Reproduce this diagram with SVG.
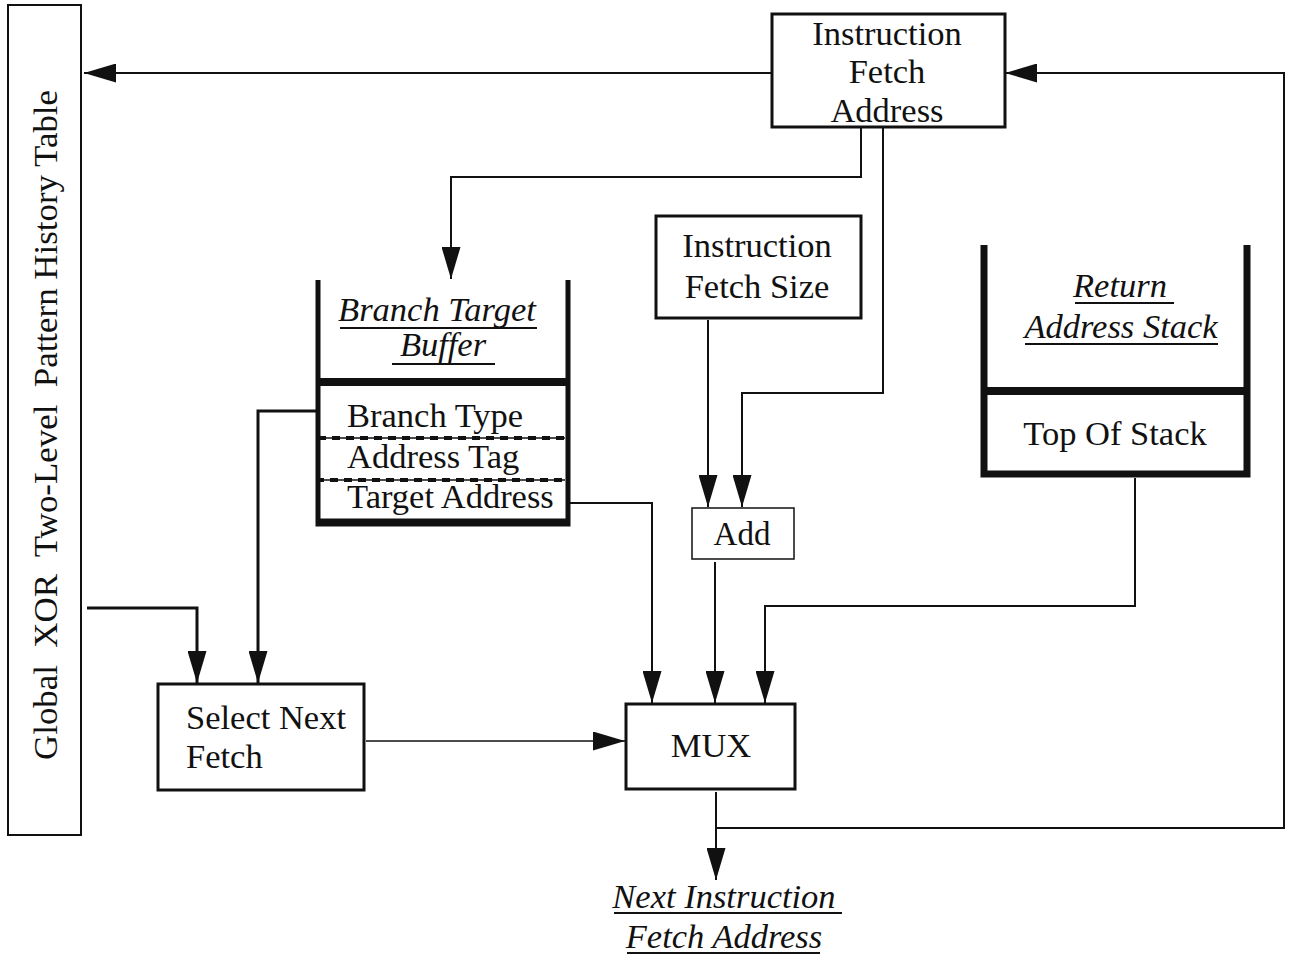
<svg xmlns="http://www.w3.org/2000/svg" width="1301" height="955" viewBox="0 0 1301 955">
  <style>
    .t { font-family: "Liberation Serif", "Times New Roman", serif; font-size: 34.5px; fill: #111; }
    .i { font-style: italic; }
    .box { fill: #fff; stroke: #111; }
    .wire { fill: none; stroke: #111; stroke-width: 2; }
    .arr { marker-end: url(#ah); }
    .wall { stroke: #111; fill: none; }
    .ul { stroke: #111; stroke-width: 2; }
  </style>
  <defs>
    <marker id="ah" viewBox="0 0 32 19" markerWidth="32" markerHeight="19" refX="32" refY="9.5" orient="auto" markerUnits="userSpaceOnUse">
      <path d="M0,0 L32,9.5 L0,19 z" fill="#111"/>
    </marker>
  </defs>

  <rect width="1301" height="955" fill="#fff"/>

  <!-- connectors -->
  <g id="connectors">
    <!-- fetch address to pattern history table -->
    <path class="wire arr" d="M771,73 L84,73"/>
    <!-- fetch address to branch target buffer -->
    <path class="wire arr" d="M861,128 L861,177 L451,177 L451,279"/>
    <!-- fetch address to adder -->
    <path class="wire arr" d="M883,128 L883,393 L742,393 L742,507"/>
    <!-- fetch size to adder -->
    <path class="wire arr" d="M708,320 L708,507"/>
    <!-- adder to mux -->
    <path class="wire arr" d="M715,562 L715,703"/>
    <!-- target address to mux -->
    <path class="wire arr" d="M570,503 L652,503 L652,703"/>
    <!-- top of stack to mux -->
    <path class="wire arr" d="M1135,478 L1135,606 L765,606 L765,703"/>
    <!-- pattern history table to select -->
    <path class="wire arr" style="stroke-width:3" d="M87,608 L197,608 L197,683"/>
    <!-- branch type to select -->
    <path class="wire arr" style="stroke-width:3" d="M318,411 L258,411 L258,683"/>
    <!-- select to mux -->
    <path class="wire arr" style="stroke-width:1.5" d="M366,741 L625,741"/>
    <!-- mux output -->
    <path class="wire arr" d="M716,792 L716,880"/>
    <!-- feedback to fetch address -->
    <path class="wire arr" d="M716,828 L1284,828 L1284,73 L1005,73"/>
  </g>

  <!-- Global XOR two-level pattern history table -->
  <g id="pht">
    <rect class="box" x="8" y="5" width="73" height="830" stroke-width="2"/>
    <text class="t" xml:space="preserve" transform="translate(57,760) rotate(-90)" textLength="670" lengthAdjust="spacingAndGlyphs" style="font-size:34px">Global  XOR  Two-Level  Pattern History Table</text>
  </g>

  <!-- Instruction fetch address -->
  <g id="ifa">
    <rect class="box" x="772" y="14" width="233" height="113" stroke-width="3"/>
    <text class="t" x="887" y="45" text-anchor="middle">Instruction</text>
    <text class="t" x="887" y="83" text-anchor="middle">Fetch</text>
    <text class="t" x="887" y="122" text-anchor="middle">Address</text>
  </g>

  <!-- Instruction fetch size -->
  <g id="ifs">
    <rect class="box" x="656" y="216" width="205" height="102" stroke-width="3"/>
    <text class="t" x="757" y="257" text-anchor="middle">Instruction</text>
    <text class="t" x="757" y="298" text-anchor="middle">Fetch Size</text>
  </g>

  <!-- Branch target buffer -->
  <g id="btb">
    <path class="wall" stroke-width="5" d="M318,280 L318,524 L568,524 L568,280"/>
    <line x1="316" y1="382" x2="570" y2="382" stroke="#111" stroke-width="8"/>
    <line x1="316" y1="522" x2="570" y2="522" stroke="#111" stroke-width="7"/>
    <text class="t i" x="437" y="321" text-anchor="middle">Branch Target</text>
    <line class="ul" x1="340" y1="328" x2="537" y2="328"/>
    <text class="t i" x="443" y="356" text-anchor="middle">Buffer</text>
    <line class="ul" x1="392" y1="364" x2="495" y2="364"/>
    <text class="t" x="347" y="427">Branch Type</text>
    <line x1="318" y1="438" x2="565" y2="438" stroke="#111" stroke-width="1.5"/>
    <line x1="318" y1="438" x2="565" y2="438" stroke="#111" stroke-width="4" stroke-dasharray="8 6"/>
    <text class="t" x="347" y="468">Address Tag</text>
    <line x1="316" y1="480" x2="565" y2="480" stroke="#111" stroke-width="1.5"/>
    <line x1="316" y1="480" x2="565" y2="480" stroke="#111" stroke-width="4" stroke-dasharray="8 6"/>
    <text class="t" x="347" y="508">Target Address</text>
  </g>

  <!-- Return address stack -->
  <g id="ras">
    <path class="wall" stroke-width="7" d="M984,245 L984,474 L1247,474 L1247,245"/>
    <line x1="981" y1="391" x2="1250" y2="391" stroke="#111" stroke-width="8"/>
    <text class="t i" x="1120" y="297" text-anchor="middle">Return</text>
    <line class="ul" x1="1075" y1="303" x2="1174" y2="303"/>
    <text class="t i" x="1121" y="338" text-anchor="middle">Address Stack</text>
    <line class="ul" x1="1025" y1="344" x2="1218" y2="344"/>
    <text class="t" x="1115" y="445" text-anchor="middle">Top Of Stack</text>
  </g>

  <!-- Adder -->
  <g id="add">
    <rect class="box" x="692" y="508" width="102" height="51" stroke-width="1.5"/>
    <text class="t" x="742" y="545" text-anchor="middle" style="font-size:33px">Add</text>
  </g>

  <!-- Select next fetch -->
  <g id="select">
    <rect class="box" x="158" y="684" width="206" height="106" stroke-width="3"/>
    <text class="t" x="186" y="729">Select Next</text>
    <text class="t" x="186" y="768">Fetch</text>
  </g>

  <!-- Multiplexer -->
  <g id="mux">
    <rect class="box" x="626" y="704" width="169" height="85" stroke-width="3"/>
    <text class="t" x="711" y="757" text-anchor="middle">MUX</text>
  </g>

  <!-- Output label -->
  <g id="next">
    <text class="t i" x="724" y="908" text-anchor="middle">Next Instruction</text>
    <line class="ul" x1="614" y1="913" x2="842" y2="913"/>
    <text class="t i" x="724" y="948" text-anchor="middle">Fetch Address</text>
    <line class="ul" x1="627" y1="953" x2="820" y2="953"/>
  </g>
</svg>
